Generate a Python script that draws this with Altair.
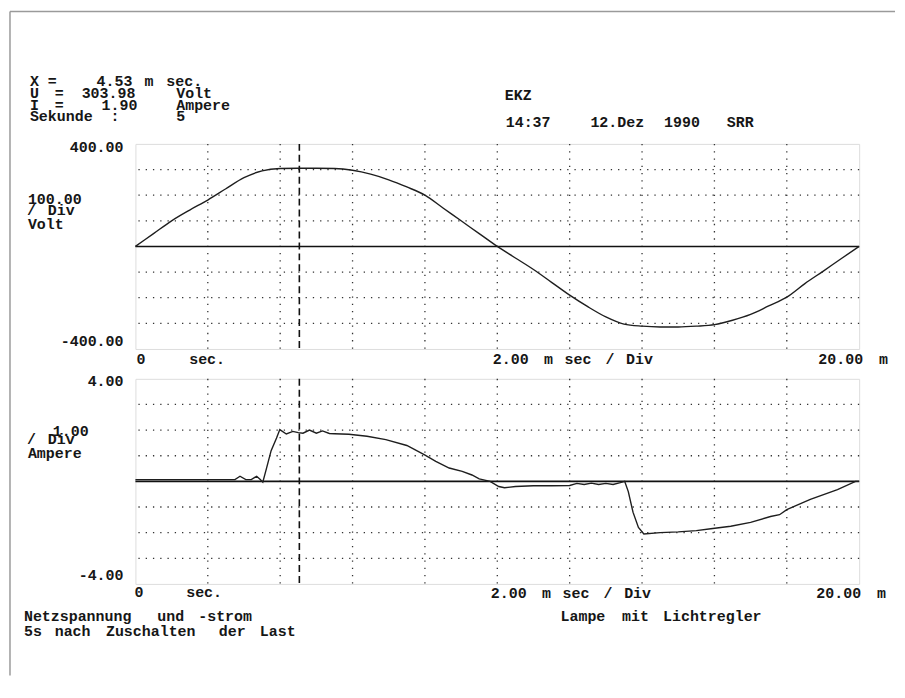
import altair as alt
import pandas as pd

# ---------------- data ----------------
t_volt = [0, 0.5, 1.0, 1.5, 2.0, 2.5, 3.0, 3.5, 4.0, 4.5, 5.0, 5.5, 6.0, 6.5, 7.0, 7.5,
          8.0, 8.5, 9.0, 9.5, 10.0, 10.5, 11.0, 11.5, 12.0, 12.5, 13.0, 13.5, 14.0,
          14.5, 15.0, 15.5, 16.0, 16.5, 17.0, 17.5, 18.0, 18.5, 19.0, 19.5, 20.0]
u_volt = [0, 50, 100, 142, 181, 225, 268, 295, 304, 305, 305, 304, 297, 282, 260, 232,
          200, 150, 100, 50, 0, -45, -90, -140, -190, -235, -275, -303, -311,
          -314, -314, -311, -305, -288, -265, -232, -198, -145, -97, -48, 0]

t_cur = [0, 1.0, 2.0, 2.75, 2.89, 3.05, 3.2, 3.35, 3.45, 3.52, 3.62, 3.75, 3.9, 3.99,
         4.17, 4.35, 4.5, 4.63, 4.81, 5.0, 5.17, 5.36, 5.5, 5.9, 6.4, 6.92, 7.5, 7.98,
         8.3, 8.67, 9.03, 9.3, 9.5, 9.8, 10.04, 10.2, 10.5, 11.0, 11.5, 12.0, 12.2,
         12.4, 12.6, 12.8, 13.0, 13.2, 13.4, 13.52, 13.62, 13.75, 13.9, 14.05, 14.5,
         15.0, 15.5, 15.9, 16.45, 17.0, 17.55, 17.8, 18.0, 18.65, 19.4, 19.9, 20.0]
i_cur = [0.07, 0.07, 0.07, 0.07, 0.2, 0.07, 0.07, 0.2, 0.07, -0.03, 0.5, 1.2, 1.69, 2.02,
         1.85, 1.95, 1.9, 1.88, 2.0, 1.88, 1.97, 1.87, 1.86, 1.84, 1.76, 1.63, 1.4, 1.04,
         0.78, 0.52, 0.39, 0.25, 0.1, 0.0, -0.2, -0.25, -0.2, -0.17, -0.17, -0.16, -0.08,
         -0.12, -0.07, -0.12, -0.08, -0.12, -0.05, 0.0, -0.4, -1.2, -1.8, -2.05, -2.0,
         -1.97, -1.92, -1.85, -1.75, -1.6, -1.37, -1.3, -1.1, -0.7, -0.32, 0.0, 0.0]

cursor_ms = [4.53]
x_grid = [2, 4, 6, 8, 10, 12, 14, 16, 18]
volt_grid = [-300, -200, -100, 100, 200, 300]
cur_grid = [-3, -2, -1, 1, 2, 3]
volt_range = [-400, 400]
cur_range = [-4, 4]
time_range = [0, 20]

# ---------------- style ----------------
FONT = "Liberation Mono"
FS = 15
ADV = 10.3           # character pitch used to place the words of a printed line
INK = "#161616"
W, H = 727, 206

one = pd.DataFrame({"k": [0]})


def txt(s, x, y, align="left", size=FS):
    return alt.Chart(one).mark_text(
        text=s, align=align, baseline="alphabetic", font=FONT, fontSize=size,
        fontWeight="bold", color=INK
    ).encode(x=alt.value(x), y=alt.value(y))


def words(s, x0, y):
    """place each word of a monospaced line at its printer column"""
    out = []
    col = 0
    for part in s.split(" "):
        if part:
            out.append((part, x0 + col * ADV, y, "left"))
        col += len(part) + 1
    return out


def panel(t, v, grid_vals, ydom, texts, ox, oy, extra=(), interp="linear"):
    xs = alt.Scale(domain=time_range, nice=False, zero=False)
    ys = alt.Scale(domain=ydom, nice=False, zero=False)
    gx = alt.Chart(pd.DataFrame({"g": x_grid})).mark_rule(
        color="#333", strokeWidth=1.3, strokeDash=[1.3, 6]
    ).encode(x=alt.X("g:Q", scale=xs, axis=None))
    gy = alt.Chart(pd.DataFrame({"g": grid_vals})).mark_rule(
        color="#333", strokeWidth=1.3, strokeDash=[1.3, 6]
    ).encode(y=alt.Y("g:Q", scale=ys, axis=None))
    zero = alt.Chart(pd.DataFrame({"z": [0]})).mark_rule(
        color="#111", strokeWidth=1.6
    ).encode(y=alt.Y("z:Q", scale=ys, axis=None))
    cur = alt.Chart(pd.DataFrame({"c": cursor_ms})).mark_rule(
        color="#111", strokeWidth=1.6, strokeDash=[7, 4]
    ).encode(x=alt.X("c:Q", scale=xs, axis=None))
    line = alt.Chart(pd.DataFrame({"t": t, "v": v})).mark_line(
        color="#1e1e1e", strokeWidth=1.4, interpolate=interp
    ).encode(
        x=alt.X("t:Q", scale=xs, axis=None),
        y=alt.Y("v:Q", scale=ys, axis=None),
        order="t:Q",
    )
    layers = [gx, gy, zero, cur, line] + list(extra)
    layers += [txt(s, x - ox, y - oy, a) for (s, x, y, a) in texts]
    return alt.layer(*layers).properties(width=W, height=H)


# top panel origin on page: (135, 142); bottom: (135, 378)
O1 = (135, 142)
O2 = (135, 378)

top_texts = [
    ("X", 29, 83.5, "left"), ("=", 47, 83.5, "left"), ("4.53", 96, 83.5, "left"),
    ("m", 144, 83.5, "left"), ("sec.", 166, 83.5, "left"),
    ("U", 29, 95.5, "left"), ("=", 54, 95.5, "left"), ("303.98", 81, 95.5, "left"),
    ("Volt", 176, 95.5, "left"),
    ("I", 29, 107.5, "left"), ("=", 54, 107.5, "left"), ("1.90", 101, 107.5, "left"),
    ("Ampere", 176, 107.5, "left"),
    ("Sekunde", 29, 119.5, "left"), (":", 110, 119.5, "left"), ("5", 176, 119.5, "left"),
    ("EKZ", 506, 98, "left"),
    ("14:37", 507, 125, "left"), ("12.Dez", 592, 125, "left"), ("1990", 666, 125, "left"),
    ("SRR", 729, 125, "left"),
    ("400.00", 123, 150, "right"),
    ("100.00", 27, 202, "left"), ("/", 26, 213, "left"), ("Div", 47, 213, "left"),
    ("Volt", 27, 227, "left"),
    ("-400.00", 123, 345, "right"),
    ("0", 136, 363.5, "left"), ("sec.", 189, 363.5, "left"),
    ("20.00", 821, 363.5, "left"), ("m", 882, 363.5, "left"),
] + words("2.00 m sec / Div", 494, 363.5)

bottom_texts = [
    ("4.00", 123, 385, "right"),
    ("1.00", 52, 435, "left"), ("/", 26, 443, "left"), ("Div", 47, 443, "left"),
    ("Ampere", 27, 458, "left"),
    ("-4.00", 123, 580, "right"),
    ("0", 134, 597.5, "left"), ("sec.", 186, 597.5, "left"),
    ("20.00", 819, 598, "left"), ("m", 880, 598, "left"),
] + words("2.00 m sec / Div", 492, 598) \
  + words("Netzspannung und -strom", 23, 621.5) \
  + words("5s nach Zuschalten der Last", 23, 636.5) \
  + words("Lampe mit Lichtregler", 562, 621.5)

# page frame (scanned sheet edge), relative to the top panel origin
FRX, FRY = 9, 9
frame_top = alt.Chart(one).mark_rule(color="#9a9a9a", strokeWidth=1.5).encode(
    x=alt.value(FRX - O1[0]), x2=alt.value(898 - O1[0]), y=alt.value(FRY - O1[1])
)
frame_left = alt.Chart(one).mark_rule(color="#9a9a9a", strokeWidth=1.5).encode(
    x=alt.value(FRX - O1[0]), y=alt.value(FRY - O1[1]), y2=alt.value(676 - O1[1])
)

top = panel(t_volt, u_volt, volt_grid, volt_range, top_texts, *O1,
            extra=(frame_top, frame_left), interp="monotone")
bottom = panel(t_cur, i_cur, cur_grid, cur_range, bottom_texts, *O2)

chart = alt.vconcat(top, bottom, spacing=30, bounds="flush", padding=0).configure_view(
    stroke="#111", strokeWidth=2
).configure(background="white")

chart.save("out.html", embed_options={"renderer": "svg", "actions": False})
